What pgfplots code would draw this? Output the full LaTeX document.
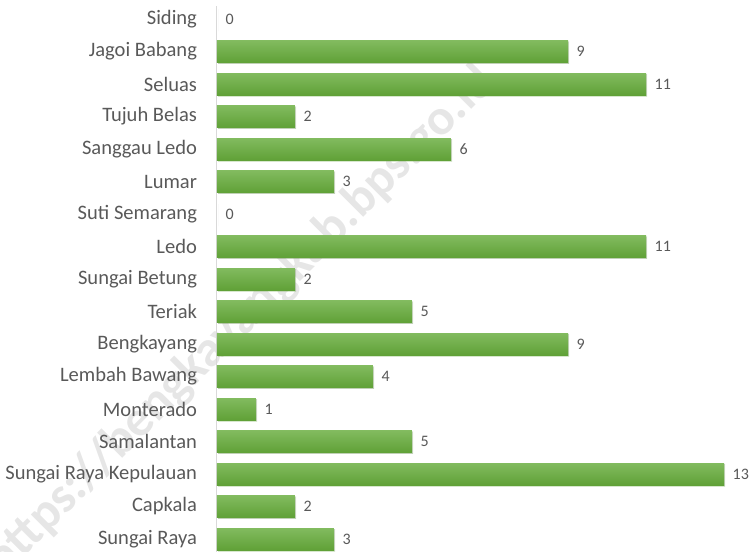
\documentclass[border=0pt]{standalone}
\usepackage{fontspec}
\setmainfont{Carlito}
\usepackage{pgfplots}
\usepackage{pgfplotstable}
\pgfplotsset{compat=1.18}
\usetikzlibrary{shadows}
\definecolor{bartop}{HTML}{82BB5F}
\definecolor{barbot}{HTML}{60A137}
\definecolor{txt}{HTML}{595959}
\definecolor{axgray}{HTML}{D9D9D9}
\definecolor{wmark}{HTML}{E6E6E6}

% i = row from the bottom, v = value
\pgfplotstableread{
i v
0 3
1 2
2 13
3 5
4 1
5 4
6 9
7 5
8 2
9 11
10 0
11 3
12 6
13 2
14 11
15 9
16 0
}\counts

\begin{document}
\begin{tikzpicture}
% watermark first, so that labels and bars lie over it
% (the axis below has its south west corner at the origin)
\node[rotate=45, text=wmark, font=\bfseries\fontsize{38}{42}\selectfont]
  at (18.1pt,173.1pt) {https://bengkayangkab.bps.go.id};
\begin{axis}[name=ax, scale only axis,
  width=380.25pt, height=409.5pt,
  xmin=0, xmax=13, ymin=-0.4, ymax=16.4,
  hide x axis, axis y line*=left,
  y axis line style={draw=axgray, line width=0.75pt, -},
  ytick={0,...,16},
  yticklabels={Sungai Raya, Capkala, Sungai Raya Kepulauan, Samalantan,
    Monterado, Lembah Bawang, Bengkayang, Teriak, Sungai Betung, Ledo,
    Suti Semarang, Lumar, Sanggau Ledo, Tujuh Belas, Seluas, Jagoi Babang, Siding},
  major tick length=0,
  yticklabel style={font=\fontsize{15.4}{18}\selectfont, text=txt, xshift=-11.5pt},
  xbar, bar width=16.5pt, bar shift=0pt,
  nodes near coords,
  nodes near coords style={font=\fontsize{12}{14}\selectfont, text=txt,
    anchor=west, xshift=3pt},
  /pgf/number format/assume math mode=true,
  clip=false]
  % one plot per bar so that each bar gets its own gradient
  \pgfplotsinvokeforeach{0,...,16}{
    \addplot[draw=none, top color=bartop, bottom color=barbot,
      drop shadow={shadow xshift=0.8pt, shadow yshift=-0.8pt, opacity=0.25},
      y filter/.expression={abs(y-#1)<0.1 ? y : nan}]
      table[x=v, y=i] {\counts};
  }
\end{axis}
\pgfresetboundingbox
\path ([shift={(-162.75pt,0.75pt)}]ax.south west)
  rectangle ([shift={(402pt,414pt)}]ax.south west);
\end{tikzpicture}
\end{document}
